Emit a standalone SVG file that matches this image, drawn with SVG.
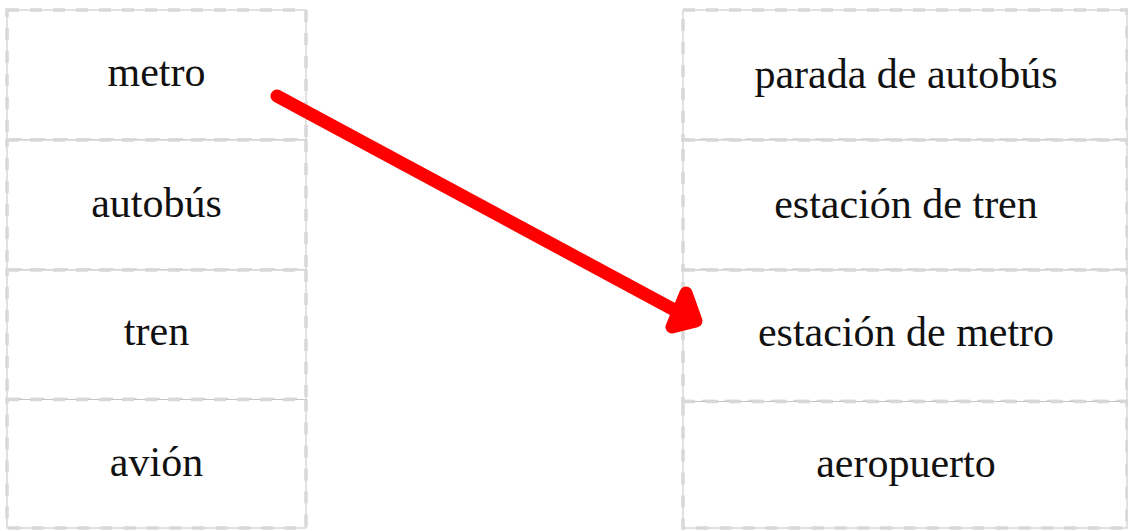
<svg xmlns="http://www.w3.org/2000/svg" width="1128" height="531" viewBox="0 0 1128 531">
<defs>
<style>
.base{fill:#fff;stroke:#c4c4c4;stroke-width:1}
.dash{fill:none;stroke:#d8d8d8;stroke-width:3.5;stroke-dasharray:12 11}
.t{font-family:"Liberation Serif","Times New Roman",serif;font-size:42px;fill:#111;text-anchor:middle}
.arrow{fill:none;stroke:#ff0000;stroke-width:13;stroke-linecap:round;stroke-linejoin:round}
</style>
</defs>
<rect width="1128" height="531" fill="#fff"/>
<g id="left-metro"><rect class="base" x="7" y="10" width="299" height="130"/><rect class="dash" x="7" y="10" width="299" height="130"/><text class="t" x="156.5" y="86">metro</text></g>
<g id="left-autobus"><rect class="base" x="7" y="140" width="299" height="130"/><rect class="dash" x="7" y="140" width="299" height="130"/><text class="t" x="156.5" y="217">autobús</text></g>
<g id="left-tren"><rect class="base" x="7" y="270" width="299" height="129.5"/><rect class="dash" x="7" y="270" width="299" height="129.5"/><text class="t" x="156.5" y="345">tren</text></g>
<g id="left-avion"><rect class="base" x="7" y="399.5" width="299" height="128.5"/><rect class="dash" x="7" y="399.5" width="299" height="128.5"/><text class="t" x="156.5" y="476">avión</text></g>
<g id="right-parada"><rect class="base" x="683" y="10" width="444" height="130"/><rect class="dash" x="683" y="10" width="444" height="130"/><text class="t" x="906" y="88">parada de autobús</text></g>
<g id="right-tren"><rect class="base" x="683" y="140" width="444" height="130"/><rect class="dash" x="683" y="140" width="444" height="130"/><text class="t" x="906" y="218">estación de tren</text></g>
<g id="right-metro"><rect class="base" x="683" y="270" width="444" height="131.5"/><rect class="dash" x="683" y="270" width="444" height="131.5"/><text class="t" x="906" y="346">estación de metro</text></g>
<g id="right-aeropuerto"><rect class="base" x="683" y="401.5" width="444" height="126.5"/><rect class="dash" x="683" y="401.5" width="444" height="126.5"/><text class="t" x="906" y="477">aeropuerto</text></g>
<g id="connectors">
<path class="arrow" d="M277 96 L693 320"/>
<path class="arrow" d="M686 293 L696 321 L672 327 Z" fill="#ff0000"/>
</g>
</svg>
